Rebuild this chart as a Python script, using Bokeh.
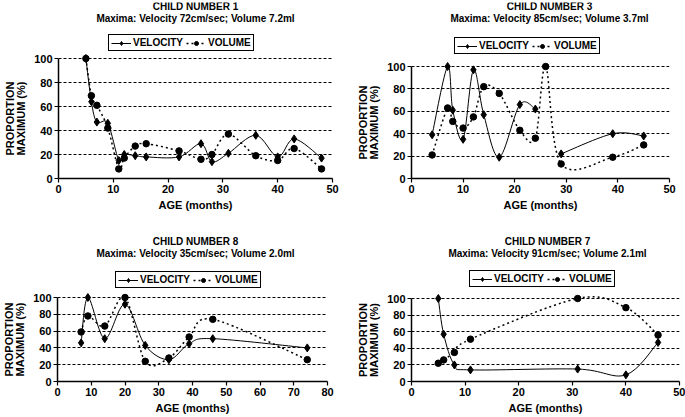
import math
from bokeh.plotting import figure
from bokeh.models import Range1d, FixedTicker, Label, Legend, LegendItem, ColumnDataSource
from bokeh.layouts import column, row
from bokeh.embed import file_html
from bokeh.resources import INLINE

FONT = "Liberation Sans"
NAN = float("nan")

# ---- data ----
c1_title = "CHILD NUMBER 1"
c1_sub = "Maxima: Velocity 72cm/sec; Volume 7.2ml"
c1_age = [5, 6, 7, 9, 11, 12, 14, 16, 22, 26, 28, 31, 36, 40, 43, 48]
c1_vel = [100, 64, 47, 46, 15, 20, 19, 18, 18, 29, 14, 21, 36, 18, 33, 17]
c1_vol = [100, 69, 61, 42, 8, 17, 27, 29, 23, 16, 20, 37, 19, 15, 25, 8]

c3_title = "CHILD NUMBER 3"
c3_sub = "Maxima: Velocity 85cm/sec; Volume 3.7ml"
c3_age = [4, 7, 8, 10, 12, 14, 17, 21, 24, 26, 29, 39, 45]
c3_vel = [39, 100, 61, 35, 97, 57, 19, 66, 62, NAN, 22, 40, 38]
c3_vol = [21, 63, 51, 45, 55, 82, 76, 43, 36, 100, 13, 19, 30]

c8_title = "CHILD NUMBER 8"
c8_sub = "Maxima: Velocity 35cm/sec; Volume 2.0ml"
c8_age = [7, 9, 14, 20, 26, 33, 39, 46, 74]
c8_vel = [46, 100, 51, 92, 43, 26, 45, 51, 40]
c8_vol = [59, 78, 66, 100, 24, 28, 53, 74, 26]

c7_title = "CHILD NUMBER 7"
c7_sub = "Maxima: Velocity 91cm/sec; Volume 2.1ml"
c7_age = [5, 6, 8, 11, 31, 40, 46]
c7_vel = [100, 57, 20, 14, 15, 8, 47]
c7_vol = [22, 26, 35, 51, 100, 89, 56]

y_ticks = [0, 20, 40, 60, 80, 100]
series_labels = ["VELOCITY", "VOLUME"]
x_label = "AGE (months)"
y_label_lines = ["PROPORTION", "MAXIMUM (%)"]


def bezier_source(xs, ys):
    """Smoothed (Catmull-Rom style) curve segments through the data points."""
    runs, cur = [], []
    for x, y in zip(xs, ys):
        if y is None or (isinstance(y, float) and math.isnan(y)):
            if cur:
                runs.append(cur)
            cur = []
        else:
            cur.append((x, y))
    if cur:
        runs.append(cur)
    d = {k: [] for k in ("x0", "y0", "x1", "y1", "cx0", "cy0", "cx1", "cy1")}
    for pts in runs:
        n = len(pts)
        for i in range(n - 1):
            p0 = pts[i - 1] if i > 0 else pts[i]
            p1 = pts[i]
            p2 = pts[i + 1]
            p3 = pts[i + 2] if i + 2 < n else pts[i + 1]
            d["x0"].append(p1[0]); d["y0"].append(p1[1])
            d["x1"].append(p2[0]); d["y1"].append(p2[1])
            d["cx0"].append(p1[0] + (p2[0] - p0[0]) / 6.0)
            d["cy0"].append(p1[1] + (p2[1] - p0[1]) / 6.0)
            d["cx1"].append(p2[0] - (p3[0] - p1[0]) / 6.0)
            d["cy1"].append(p2[1] - (p3[1] - p1[1]) / 6.0)
    return ColumnDataSource(d)


LEG_H = 15


def make_panel(t1, t2, age, vel, vol, xmax, fig_left, fig_top, width, height,
               frame_left, frame_right, y100, y0, title_y, legend_left,
               legend_top, lab_w, title_off=0):
    """All positions are page pixels (top-left origin)."""
    bt = 2
    main_left = fig_left + lab_w
    main_w = width - lab_w
    bl = frame_left - main_left
    br = fig_left + width - frame_right
    bb = fig_top + height - y0
    frame_h = height - bt - bb
    px_per_unit = (y0 - y100) / 100.0
    ymax = frame_h / px_per_unit
    y_range = Range1d(0, ymax)

    # --- narrow strip holding the two-line y-axis title (same y scale) ---
    lab = figure(width=lab_w, height=height, title=None,
                 x_range=Range1d(0, 1), y_range=y_range,
                 x_axis_type=None, y_axis_type=None,
                 output_backend="svg", toolbar_location=None,
                 min_border_left=0, min_border_right=0,
                 min_border_top=bt, min_border_bottom=bb,
                 outline_line_color=None, background_fill_color="white",
                 border_fill_color="white")
    for i, txt in enumerate(y_label_lines):
        lab.add_layout(Label(x=frame_left - 49 + 11 * i - fig_left,
                             x_units="screen", y=50, y_units="data",
                             angle=math.pi / 2, text=txt,
                             text_align="center", text_baseline="middle",
                             text_font=FONT, text_font_size="11px",
                             text_font_style="bold", text_color="black"))

    p = figure(width=main_w, height=height, title=None,
               x_range=Range1d(0, xmax), y_range=y_range,
               output_backend="svg", toolbar_location=None,
               min_border_left=bl, min_border_right=br,
               min_border_top=bt, min_border_bottom=bb,
               outline_line_color=None, background_fill_color="white",
               border_fill_color="white")
    p.xgrid.visible = False
    p.ygrid.ticker = FixedTicker(ticks=y_ticks[1:])
    p.ygrid.grid_line_color = "black"
    p.ygrid.grid_line_dash = "3 2"
    p.ygrid.grid_line_width = 1

    p.xaxis.ticker = FixedTicker(ticks=list(range(0, xmax + 1, 10)))
    p.yaxis.ticker = FixedTicker(ticks=y_ticks)
    p.yaxis.bounds = (0, 100)
    for ax in (p.xaxis[0], p.yaxis[0]):
        ax.axis_line_color = "black"
        ax.axis_line_width = 1.5
        ax.major_tick_line_color = "black"
        ax.major_tick_line_width = 1.2
        ax.major_tick_out = 4
        ax.major_tick_in = 0
        ax.minor_tick_line_color = None
        ax.major_label_text_font = FONT
        ax.major_label_text_font_style = "bold"
        ax.major_label_text_font_size = "11px"
        ax.major_label_text_color = "black"
        ax.axis_label_text_font = FONT
        ax.axis_label_text_font_style = "bold"
        ax.axis_label_text_font_size = "11px"
        ax.axis_label_text_color = "black"
        ax.major_label_standoff = 2
    p.xaxis.axis_label_standoff = 3
    p.xaxis.axis_label = x_label

    vs = bezier_source(age, vel)
    ws = bezier_source(age, vol)
    p.bezier(x0="x0", y0="y0", x1="x1", y1="y1", cx0="cx0", cy0="cy0",
             cx1="cx1", cy1="cy1", source=vs, line_color="black", line_width=1)
    p.bezier(x0="x0", y0="y0", x1="x1", y1="y1", cx0="cx0", cy0="cy0",
             cx1="cx1", cy1="cy1", source=ws, line_color="black",
             line_width=1.5, line_dash="2 3")
    vol_pts = p.scatter(age, vol, marker="circle", size=6.5,
                        fill_color="black", line_color="black")
    vel_pts = p.scatter(age, vel, marker="diamond", size=8,
                        fill_color="black", line_color="black")

    # style proxies for the legend keys (no visible data)
    vel_proxy = p.line(x=[NAN], y=[NAN], line_color="black", line_width=1)
    vol_proxy = p.line(x=[NAN], y=[NAN], line_color="black", line_width=1.5,
                       line_dash="2 3")
    legend = Legend(items=[
        LegendItem(label=series_labels[0], renderers=[vel_proxy, vel_pts]),
        LegendItem(label=series_labels[1], renderers=[vol_proxy, vol_pts]),
    ], orientation="horizontal",
        location=(legend_left - frame_left, y0 - (legend_top + LEG_H)),
        label_text_font=FONT, label_text_font_size="10px",
        label_text_font_style="bold", label_text_color="black",
        label_height=10, glyph_height=10, glyph_width=20,
        label_standoff=2, spacing=3, padding=2, margin=0,
        border_line_color="black", border_line_width=1, border_line_alpha=1,
        background_fill_color="white", background_fill_alpha=1)
    p.add_layout(legend, "center")

    for i, txt in enumerate((t1, t2)):
        p.add_layout(Label(x=xmax / 2.0, x_units="data",
                           y=y0 - title_y - 12 * i,
                           y_units="screen", x_offset=title_off,
                           text=txt, text_align="center",
                           text_baseline="middle", text_font=FONT,
                           text_font_size="10px", text_font_style="bold",
                           text_color="black"))
    return lab, p


l1, p1 = make_panel(c1_title, c1_sub, c1_age, c1_vel, c1_vol, 50,
                    0, 0, 342, 214, 58, 332, 58, 178, title_y=6,
                    legend_left=108, legend_top=36, lab_w=28)
l2, p2 = make_panel(c3_title, c3_sub, c3_age, c3_vel, c3_vol, 50,
                    342, 0, 343, 214, 411, 669, 66, 178, title_y=6,
                    legend_left=454, legend_top=39, lab_w=40, title_off=9)
l3, p3 = make_panel(c8_title, c8_sub, c8_age, c8_vel, c8_vol, 80,
                    0, 214, 342, 203, 57, 327, 297, 381, title_y=241,
                    legend_left=115, legend_top=273, lab_w=28, title_off=3)
l4, p4 = make_panel(c7_title, c7_sub, c7_age, c7_vel, c7_vol, 50,
                    342, 214, 343, 203, 411, 679, 298, 381, title_y=241,
                    legend_left=469, legend_top=272, lab_w=40, title_off=2)

layout = column(row(l1, p1, l2, p2), row(l3, p3, l4, p4))

open("out.html", "w").write(file_html(layout, INLINE))
